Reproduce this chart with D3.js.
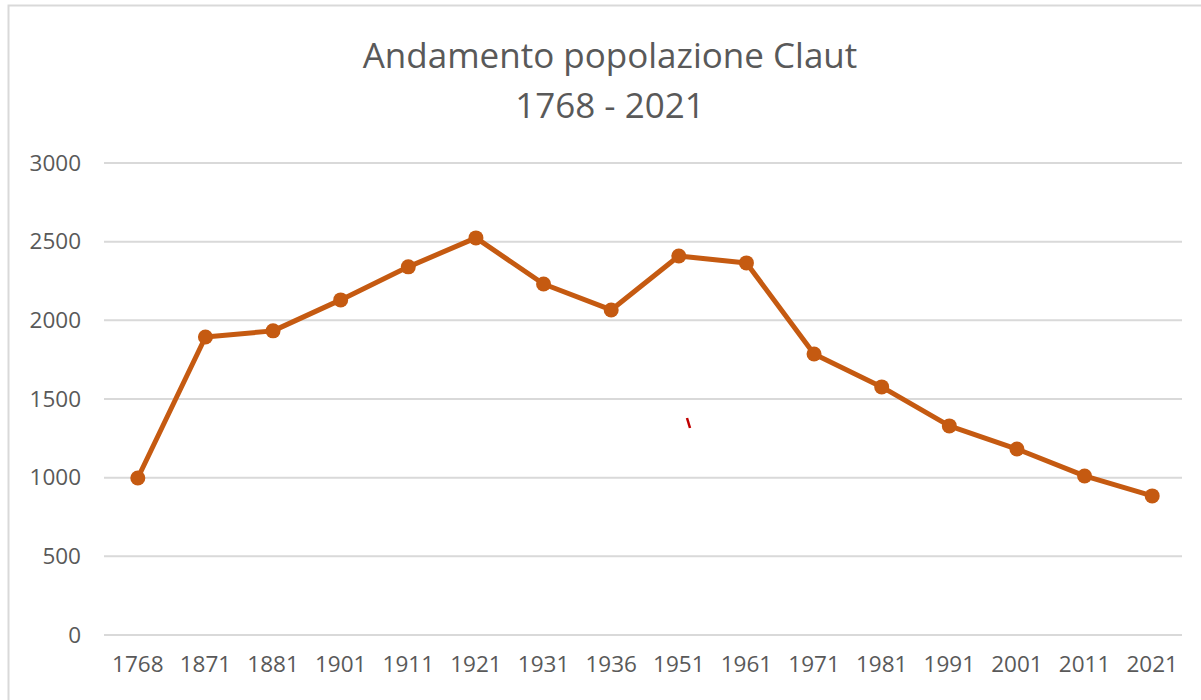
<!DOCTYPE html>
<html>
<head>
<meta charset="utf-8">
<script src="https://cdn.jsdelivr.net/npm/d3@7"></script>
<style>
  body { margin: 0; background: #fff; }
  text { font-family: "Open Sans", sans-serif; fill: #595959; }
</style>
</head>
<body>
<div id="chart-area"></div>
<script>
var years = ['1768', '1871', '1881', '1901', '1911', '1921', '1931', '1936',
  '1951', '1961', '1971', '1981', '1991', '2001', '2011', '2021'];
var population = [998, 1894, 1933, 2130, 2340, 2524, 2231, 2066,
  2409, 2365, 1786, 1577, 1329, 1182, 1011, 884];
var yTicks = [0, 500, 1000, 1500, 2000, 2500, 3000];
var titleLines = ['Andamento popolazione Claut', '1768 - 2021'];

var svg = d3.select('#chart-area').append('svg')
  .attr('width', 1201)
  .attr('height', 700);

// chart frame
svg.append('rect')
  .attr('x', 8.5)
  .attr('y', 5.5)
  .attr('width', 1200)
  .attr('height', 700)
  .attr('fill', 'none')
  .attr('stroke', '#d9d9d9')
  .attr('stroke-width', 2);

var x = d3.scaleBand()
  .domain(years)
  .range([104, 1186]);

var y = d3.scaleLinear()
  .domain([0, 3000])
  .range([635, 163]);

// gridlines
svg.append('g')
  .selectAll('line')
  .data(yTicks)
  .enter()
  .append('line')
    .attr('x1', 104)
    .attr('x2', 1182)
    .attr('y1', function(d) { return y(d); })
    .attr('y2', function(d) { return y(d); })
    .attr('stroke', '#d9d9d9')
    .attr('stroke-width', 2);

// y axis labels
var yAxis = svg.append('g')
  .attr('transform', 'translate(81,0)')
  .call(d3.axisLeft(y).tickValues(yTicks).tickFormat(d3.format('d'))
    .tickSize(0).tickPadding(0));
yAxis.select('.domain').remove();
yAxis.selectAll('text')
  .style('font-size', '22.5px')
  .style('font-family', '"Open Sans", sans-serif')
  .attr('fill', '#595959');

// x axis labels
var xAxis = svg.append('g')
  .attr('transform', 'translate(0,656)')
  .call(d3.axisBottom(x).tickSize(0).tickPadding(0));
xAxis.select('.domain').remove();
xAxis.selectAll('text')
  .style('font-size', '22.5px')
  .style('font-family', '"Open Sans", sans-serif')
  .attr('fill', '#595959');

var cx = function(d, i) { return x(years[i]) + x.bandwidth() / 2; };

var line = d3.line()
  .x(cx)
  .y(function(d) { return y(d); });

svg.append('path')
  .datum(population)
  .attr('d', line)
  .attr('fill', 'none')
  .attr('stroke', '#c55a11')
  .attr('stroke-width', 5)
  .attr('stroke-linejoin', 'round');

svg.selectAll('circle')
  .data(population)
  .enter()
  .append('circle')
    .attr('cx', cx)
    .attr('cy', function(d) { return y(d); })
    .attr('r', 7.5)
    .attr('fill', '#c55a11');

// title
svg.append('g')
  .selectAll('text')
  .data(titleLines)
  .enter()
  .append('text')
    .attr('x', 610)
    .attr('y', function(d, i) { return 68 + i * 50; })
    .attr('text-anchor', 'middle')
    .style('font-size', '35px')
    .text(function(d) { return d; });

// stray red pen mark from the original picture
svg.append('line')
  .attr('x1', 687).attr('y1', 418)
  .attr('x2', 690).attr('y2', 428)
  .attr('stroke', '#c00000')
  .attr('stroke-width', 2.5);
</script>
</body>
</html>
